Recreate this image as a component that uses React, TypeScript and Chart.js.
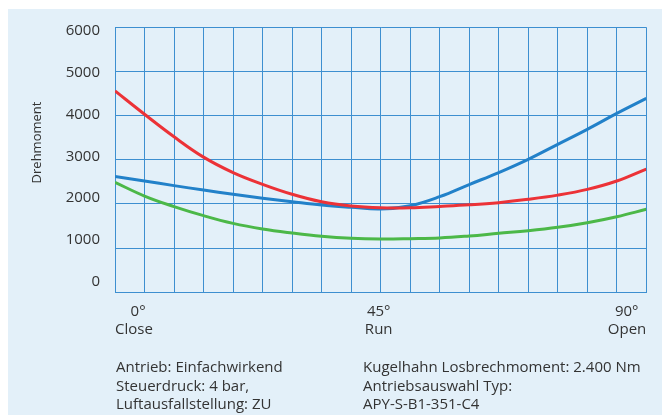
import React, { useEffect, useRef } from "react";
import { Chart, registerables } from "chart.js";

Chart.register(...registerables);

// Angle positions (degrees), 5° steps
const angles = [0, 5, 10, 15, 20, 25, 30, 35, 40, 45, 50, 55, 60, 65, 70, 75, 80, 85, 90];
// Torque curves (Nm)
const redSeries = [4560, 4030, 3520, 3060, 2710, 2445, 2220, 2050, 1955, 1915, 1915, 1945, 1980, 2030, 2105, 2200, 2330, 2520, 2790];
const blueSeries = [2620, 2520, 2415, 2315, 2220, 2130, 2050, 1975, 1925, 1886, 1960, 2165, 2440, 2710, 3010, 3350, 3690, 4050, 4390];
const greenSeries = [2490, 2180, 1940, 1735, 1560, 1433, 1342, 1268, 1223, 1207, 1214, 1229, 1275, 1336, 1395, 1472, 1576, 1712, 1879];
// Axis labels
const yTickValues = [0, 1000, 2000, 3000, 4000, 5000, 6000];
const xTickLabels: Record<number, string[]> = {
  0: ["    0°", "Close"],
  45: ["45° ", "Run "],
  90: ["90°  ", "Open"],
};
const yTitle = "Drehmoment";
const notesLeft = ["Antrieb: Einfachwirkend", "Steuerdruck: 4 bar,", "Luftausfallstellung: ZU"];
const notesRight = ["Kugelhahn Losbrechmoment: 2.400 Nm", "Antriebsauswahl Typ:", "APY-S-B1-351-C4"];

const FONT = "'Open Sans', 'DejaVu Sans', sans-serif";
const TEXT = "#333333";
const GRID = "#3d8fd0";
const BG = "#e3f0f9";

export default function App() {
  const ref = useRef<HTMLCanvasElement | null>(null);

  useEffect(() => {
    if (!ref.current) return;
    const titlePlugin = {
      id: "yTitle",
      afterDraw(chart: any) {
        const ctx = chart.ctx;
        ctx.save();
        ctx.translate(29.5, 133.5);
        ctx.rotate(-Math.PI / 2);
        ctx.font = `13px ${FONT}`;
        ctx.fillStyle = TEXT;
        ctx.textAlign = "center";
        ctx.textBaseline = "middle";
        ctx.fillText(yTitle, 0, 0);
        ctx.restore();
      },
    };
    const mk = (label: string, data: number[], color: string) => ({
      label,
      data: angles.map((a, i) => ({ x: a, y: data[i] })),
      borderColor: color,
      borderWidth: 3,
      pointRadius: 0,
      tension: 0.4,
      fill: false,
    });
    const chart = new Chart(ref.current, {
      type: "line",
      data: {
        datasets: [
          mk("Red", redSeries, "#ec3237"),
          mk("Blue", blueSeries, "#2281c9"),
          mk("Green", greenSeries, "#4cb848"),
        ],
      },
      options: {
        animation: false,
        responsive: false,
        devicePixelRatio: 1,
        layout: { padding: { left: 0, top: 18.3, right: 23.7, bottom: 0 } },
        plugins: { legend: { display: false }, tooltip: { enabled: false }, title: { display: false } },
        scales: {
          x: {
            type: "linear",
            min: 0,
            max: 90,
            afterFit: (s: any) => { s.height = 123.7; s.paddingLeft = 0; s.paddingRight = 0; },
            grid: { color: GRID, lineWidth: 1, drawTicks: false },
            border: { display: true, color: GRID, width: 1 },
            ticks: {
              stepSize: 5,
              autoSkip: false,
              maxRotation: 0,
              align: "inner",
              padding: 10,
              color: TEXT,
              font: { family: FONT, size: 15, lineHeight: 1.22 },
              callback: (v: any) => xTickLabels[Number(v)] ?? "",
            },
          },
          y: {
            type: "linear",
            position: "left",
            weight: 0,
            min: 0,
            max: 6000,
            afterFit: (s: any) => { s.width = 0; s.paddingTop = 0; s.paddingBottom = 0; },
            grid: { color: GRID, lineWidth: 1, drawTicks: false },
            border: { display: true, color: GRID, width: 1 },
            ticks: { display: false, stepSize: 1000 },
          },
          yl: {
            type: "linear",
            position: "left",
            weight: 1,
            min: -254,
            max: 6089,
            afterFit: (s: any) => { s.width = 107; s.paddingTop = 0; s.paddingBottom = 0; },
            afterBuildTicks: (s: any) => { s.ticks = yTickValues.map((value) => ({ value })); },
            grid: { display: false, drawTicks: false },
            border: { display: false },
            ticks: { padding: 15, color: TEXT, font: { family: FONT, size: 15 }, callback: (v: any) => String(v) },
          },
        },
      } as any,
      plugins: [titlePlugin],
    });
    return () => chart.destroy();
  }, []);

  const noteStyle: React.CSSProperties = {
    position: "absolute",
    top: 348,
    fontFamily: FONT,
    fontSize: 15,
    lineHeight: "18.7px",
    color: TEXT,
    whiteSpace: "nowrap",
  };

  return (
    <div style={{ position: "relative", top: 1, width: 662, height: 407, background: BG }}>
      <canvas ref={ref} width={662} height={407} style={{ display: "block" }} />
      <div style={{ ...noteStyle, left: 108 }}>
        {notesLeft.map((t) => (<div key={t}>{t}</div>))}
      </div>
      <div style={{ ...noteStyle, left: 355 }}>
        {notesRight.map((t) => (<div key={t}>{t}</div>))}
      </div>
    </div>
  );
}
